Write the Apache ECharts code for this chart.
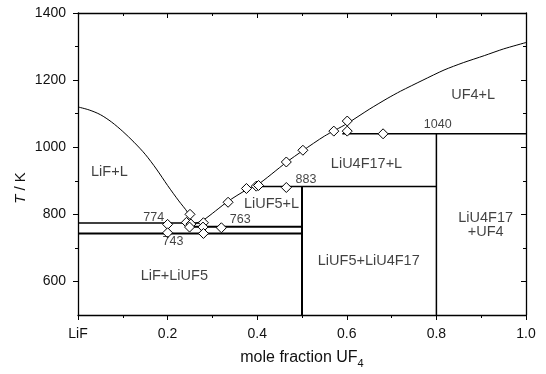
<!DOCTYPE html>
<html>
<head>
<meta charset="utf-8">
<script src="https://cdn.jsdelivr.net/npm/echarts@6/dist/echarts.min.js"></script>
<style>
html,body{margin:0;padding:0;background:#fff;}
#c{width:546px;height:374px;}
</style>
</head>
<body>
<div id="c"></div>
<script>
// ---- data ----
const xTickValues = [0, 0.2, 0.4, 0.6, 0.8, 1.0];
const xTickLabels = ['LiF', '0.2', '0.4', '0.6', '0.8', '1.0'];
const yTickValues = [600, 800, 1000, 1200, 1400];
const yMinorTickValues = [700, 900, 1100, 1300];

// LiF liquidus
const lifLiqX = [0, 0.025, 0.05, 0.075, 0.1, 0.125, 0.15, 0.175, 0.2, 0.225, 0.245, 0.256];
const lifLiqT = [1120, 1111, 1097, 1075, 1047, 1015, 979, 935, 886, 840, 805, 772];

// LiUF5 / LiU4F17 / UF4 liquidus
const uLiqX = [0.256, 0.28, 0.334, 0.376, 0.40, 0.465, 0.502, 0.55, 0.60, 0.65, 0.69, 0.72, 0.77, 0.817, 0.86, 0.907, 0.95, 1.0];
const uLiqT = [770, 783, 838, 873, 887, 955, 990, 1033, 1070, 1113, 1145, 1167, 1200, 1230, 1252, 1273, 1293, 1312];

// invariant lines (isotherms): T, x start, x end
const isoT  = [774, 763, 743, 883, 1040];
const isoX0 = [0, 0.25, 0, 0.40, 0.59];
const isoX1 = [0.28, 0.5, 0.5, 0.8, 1.0];
const isoW  = [1.5, 2, 2, 1.5, 1.5];

// vertical compound lines: x, T top
const vertX = [0.5, 0.8];
const vertTop = [883, 1040];
const vertW = [2, 1.5];

// measured points
const expX = [0.20, 0.20, 0.25, 0.242, 0.252, 0.249, 0.28, 0.279, 0.28, 0.32, 0.335, 0.376, 0.398, 0.403, 0.465, 0.465, 0.502, 0.571, 0.601, 0.601, 0.681];
const expT = [770, 745, 800, 776, 771, 762, 775, 762, 743, 760, 836, 877, 884, 886, 880, 956, 991, 1048, 1048, 1078, 1040];

// region labels
const regionText = ['LiF+L', 'UF4+L', 'LiU4F17+L', 'LiUF5+L', 'LiF+LiUF5', 'LiUF5+LiU4F17', 'LiU4F17\n+UF4'];
const regionX = [0.07, 0.882, 0.644, 0.432, 0.215, 0.649, 0.91];
const regionT = [925, 1157, 950, 831, 617, 661, 768];

// temperature labels
const tempText = ['774', '743', '763', '883', '1040'];
const tempX = [0.169, 0.212, 0.362, 0.509, 0.803];
const tempT = [790, 718, 785, 903, 1068];

// ---- chart ----
const chart = echarts.init(document.getElementById('c'), null, {renderer: 'canvas'});
const FONT = 'Liberation Sans, Arial, sans-serif';
const series = [];

const zip = (xs, ys) => xs.map((x, i) => [x, ys[i]]);

series.push({type: 'line', data: zip(lifLiqX, lifLiqT), smooth: 0.3, showSymbol: false, symbol: 'none',
  lineStyle: {color: '#000', width: 1}, silent: true, z: 2});
series.push({type: 'line', data: zip(uLiqX, uLiqT), smooth: 0.25, showSymbol: false, symbol: 'none',
  lineStyle: {color: '#000', width: 1}, silent: true, z: 2});

isoT.forEach((t, i) => {
  series.push({type: 'line', data: [[isoX0[i], t], [isoX1[i], t]], symbol: 'none',
    lineStyle: {color: '#000', width: isoW[i]}, silent: true, z: 2});
});
vertX.forEach((x, i) => {
  series.push({type: 'line', data: [[x, 500], [x, vertTop[i]]], symbol: 'none',
    lineStyle: {color: '#000', width: vertW[i]}, silent: true, z: 2});
});

series.push({type: 'scatter', data: zip(expX, expT), symbol: 'diamond', symbolSize: 10,
  itemStyle: {color: '#fff', borderColor: '#000', borderWidth: 1, opacity: 1}, silent: true, z: 5});

series.push({type: 'scatter', data: regionText.map((t, i) => ({name: t, value: [regionX[i], regionT[i]]})),
  symbolSize: 0, silent: true, z: 6,
  label: {show: true, position: 'inside', formatter: p => p.name, color: '#111',
    fontFamily: FONT, fontSize: 14.5, lineHeight: 14, align: 'center'}});
series.push({type: 'scatter', data: tempText.map((t, i) => ({name: t, value: [tempX[i], tempT[i]]})),
  symbolSize: 0, silent: true, z: 6,
  label: {show: true, position: 'inside', formatter: p => p.name, color: '#111',
    fontFamily: FONT, fontSize: 12.5}});

const axLine = {show: true, lineStyle: {color: '#000', width: 1.3}};

const option = {
  animation: false,
  backgroundColor: '#fff',
  textStyle: {fontFamily: FONT},
  grid: {left: 78, right: 20, top: 13, bottom: 50, containLabel: false},
  xAxis: [{
    type: 'value', position: 'bottom', min: 0, max: 1, interval: 0.2,
    axisLine: axLine,
    axisTick: {show: true, inside: false, length: 5, lineStyle: {color: '#000', width: 1}},
    minorTick: {show: true, splitNumber: 2, length: 3, lineStyle: {color: '#000', width: 1}},
    splitLine: {show: false},
    axisLabel: {margin: 12, color: '#111', fontSize: 14, fontFamily: FONT,
      formatter: v => { const k = xTickValues.findIndex(t => Math.abs(t - v) < 1e-6); return k >= 0 ? xTickLabels[k] : ''; }},
    name: 'mole fraction UF{s|4}', nameLocation: 'middle', nameGap: 31,
    nameTextStyle: {color: '#111', fontSize: 16, fontFamily: FONT,
      rich: {s: {fontSize: 11, fontFamily: FONT, color: '#111', padding: [12, 0, 0, 0]}}}
  }, {
    type: 'value', position: 'top', min: 0, max: 1, interval: 0.2,
    axisLine: axLine,
    axisTick: {show: true, inside: true, length: 5, lineStyle: {color: '#000', width: 1}},
    minorTick: {show: true, splitNumber: 2, length: 3, lineStyle: {color: '#000', width: 1}},
    splitLine: {show: false}, axisLabel: {show: false}
  }],
  yAxis: [{
    type: 'value', position: 'left', min: 500, max: 1400,
    axisLine: axLine,
    axisTick: {show: true, inside: false, length: 5, customValues: yTickValues, lineStyle: {color: '#000', width: 1}},
    splitLine: {show: false},
    axisLabel: {margin: 12, color: '#111', fontSize: 14, fontFamily: FONT, customValues: yTickValues,
      formatter: v => String(v)}
  }, {
    type: 'value', position: 'left', min: 500, max: 1400,
    axisLine: {show: false},
    axisTick: {show: true, inside: false, length: 3, customValues: yMinorTickValues, lineStyle: {color: '#000', width: 1}},
    splitLine: {show: false}, axisLabel: {show: false}
  }, {
    type: 'value', position: 'right', min: 500, max: 1400,
    axisLine: axLine,
    axisTick: {show: true, inside: true, length: 5, customValues: yTickValues, lineStyle: {color: '#000', width: 1}},
    splitLine: {show: false}, axisLabel: {show: false}
  }, {
    type: 'value', position: 'right', min: 500, max: 1400,
    axisLine: {show: false},
    axisTick: {show: true, inside: true, length: 3, customValues: yMinorTickValues, lineStyle: {color: '#000', width: 1}},
    splitLine: {show: false}, axisLabel: {show: false}
  }],
  graphic: [{
    type: 'text', x: 21, y: 188, rotation: Math.PI / 2, silent: true,
    style: {text: '{i|T} / K', fill: '#111', font: '15px ' + FONT, align: 'center', verticalAlign: 'middle',
      rich: {i: {fontStyle: 'italic', fontSize: 15, fontFamily: FONT, fill: '#111'}}}
  }],
  series: series
};
chart.setOption(option);
</script>
</body>
</html>
